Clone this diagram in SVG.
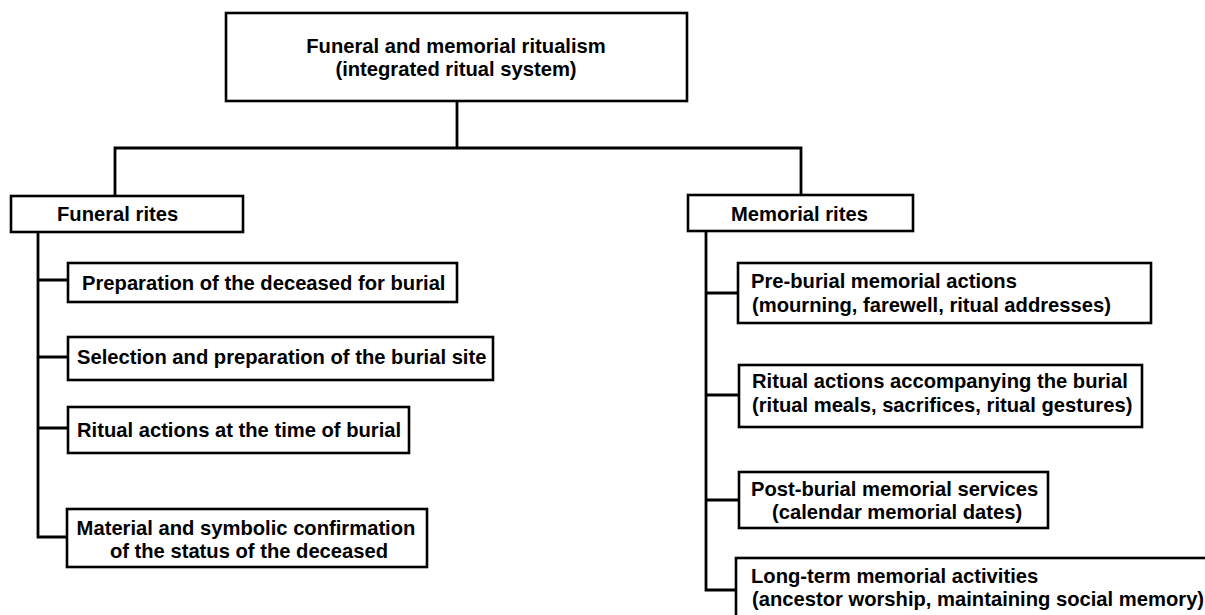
<svg xmlns="http://www.w3.org/2000/svg" width="1205" height="615" viewBox="0 0 1205 615">
<style>
.box{fill:#fff;stroke:#000;stroke-width:2.6}
.ln{fill:none;stroke:#000;stroke-width:2.8}
text{font-family:"Liberation Sans",Arial,sans-serif;font-weight:bold;font-size:20.2px;fill:#000}
.c{text-anchor:middle}
</style>
<rect width="1205" height="615" fill="#fff"/>
<g id="connectors">
<path class="ln" d="M457 101V148M115 196V148H801V195"/>
<path class="ln" d="M38 232V537H68M38 280H68M38 357H68M38 428H68"/>
<path class="ln" d="M706 231V590H737M706 293H738M706 395H739M706 500H739"/>
</g>
<g id="root">
<rect class="box" x="226" y="13" width="461" height="88"/>
<text class="c" x="456" y="53">Funeral and memorial ritualism</text>
<text class="c" x="456" y="76">(integrated ritual system)</text>
</g>
<g id="funeral">
<rect class="box" x="11" y="196" width="232" height="36"/>
<text x="57" y="221">Funeral rites</text>
</g>
<g id="memorial">
<rect class="box" x="688" y="195" width="225" height="36"/>
<text x="731" y="221">Memorial rites</text>
</g>
<g id="f1">
<rect class="box" x="68" y="263" width="389" height="39"/>
<text x="82" y="290">Preparation of the deceased for burial</text>
</g>
<g id="f2">
<rect class="box" x="68" y="337" width="425" height="43"/>
<text x="77" y="364">Selection and preparation of the burial site</text>
</g>
<g id="f3">
<rect class="box" x="68" y="407" width="341" height="46"/>
<text x="77" y="437">Ritual actions at the time of burial</text>
</g>
<g id="f4">
<rect class="box" x="67" y="509" width="360" height="58"/>
<text class="c" x="246" y="535">Material and symbolic confirmation</text>
<text class="c" x="249" y="558">of the status of the deceased</text>
</g>
<g id="m1">
<rect class="box" x="738" y="263" width="413" height="60"/>
<text x="751" y="288">Pre-burial memorial actions</text>
<text x="752" y="312">(mourning, farewell, ritual addresses)</text>
</g>
<g id="m2">
<rect class="box" x="739" y="365" width="403" height="62"/>
<text x="752" y="388">Ritual actions accompanying the burial</text>
<text x="752" y="412">(ritual meals, sacrifices, ritual gestures)</text>
</g>
<g id="m3">
<rect class="box" x="739" y="472" width="309" height="56"/>
<text x="751" y="496">Post-burial memorial services</text>
<text x="772" y="519">(calendar memorial dates)</text>
</g>
<g id="m4">
<rect class="box" x="736" y="558" width="480" height="70"/>
<text x="751" y="583">Long-term memorial activities</text>
<text x="752" y="606">(ancestor worship, maintaining social memory)</text>
</g>
</svg>
